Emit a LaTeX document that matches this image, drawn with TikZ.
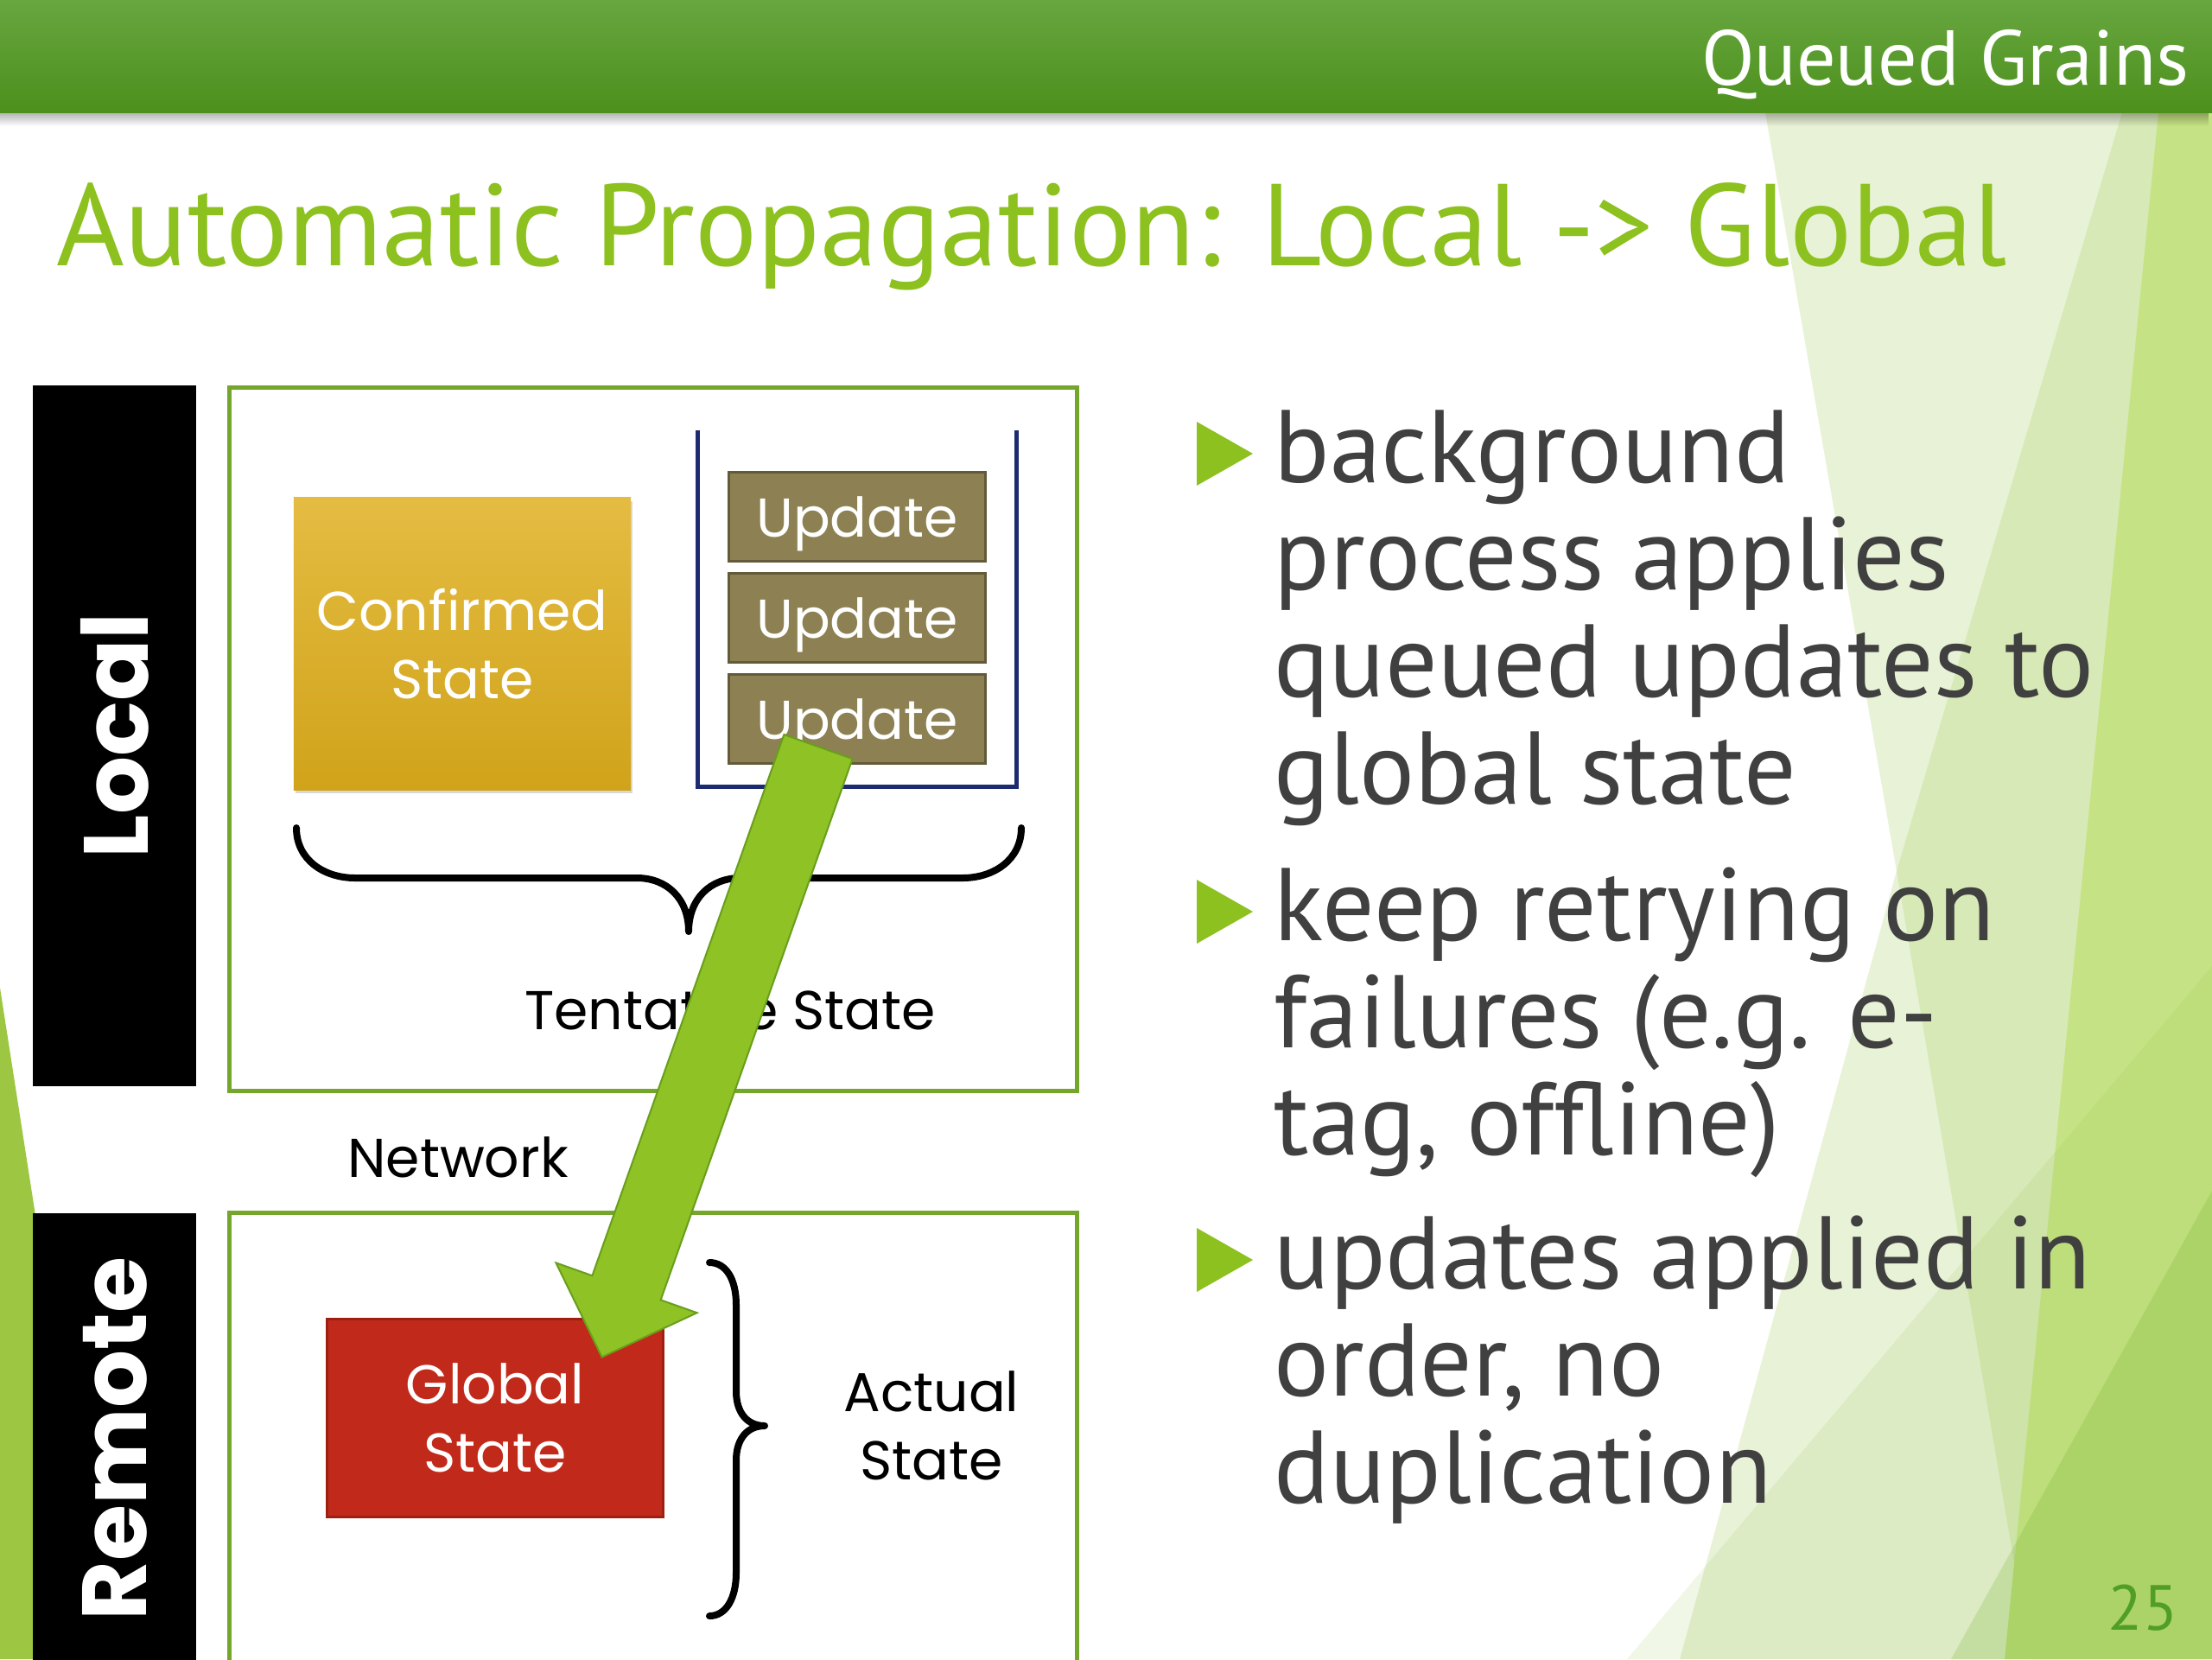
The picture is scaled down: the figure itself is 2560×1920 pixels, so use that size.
\documentclass[tikz,border=0pt]{standalone}
\usepackage{fontspec}
\setmainfont{PT Sans}
\newfontfamily\labelfont{Poppins}
\usetikzlibrary{shadows,fadings,calc}
\definecolor{hdrtop}{RGB}{103,166,64}
\definecolor{hdrbot}{RGB}{77,144,28}
\definecolor{titlegreen}{RGB}{141,193,31}
\definecolor{bodygray}{RGB}{64,64,64}
\definecolor{pale1}{RGB}{232,242,214}
\definecolor{pale2}{RGB}{215,233,182}
\definecolor{pale3}{RGB}{197,227,132}
\definecolor{tintA}{RGB}{140,190,60}
\definecolor{tintB}{RGB}{100,170,30}
\definecolor{sliver}{RGB}{157,199,67}
\definecolor{boxgreen}{RGB}{116,166,44}
\definecolor{conftop}{RGB}{229,188,66}
\definecolor{confbot}{RGB}{208,163,26}
\definecolor{updfill}{RGB}{141,129,83}
\definecolor{upddraw}{RGB}{98,90,56}
\definecolor{queueblue}{RGB}{28,42,112}
\definecolor{globfill}{RGB}{193,42,26}
\definecolor{globdraw}{RGB}{158,30,18}
\definecolor{arrowfill}{RGB}{143,194,36}
\definecolor{arrowdraw}{RGB}{104,158,28}
\definecolor{pagegreen}{RGB}{80,158,40}
\tikzfading[name=fadedown, top color=transparent!0, bottom color=transparent!100]
\begin{document}
\begin{tikzpicture}[x=0.01cm, y=-0.01cm,
  lbl/.style={font=\labelfont\fontsize{18}{22.5}\selectfont, inner sep=0pt, align=center},
  sidelbl/.style={font=\labelfont\bfseries\fontsize{30}{36}\selectfont, text=white, inner sep=0pt, rotate=90},
  body/.style={font=\fontsize{34}{40}\selectfont, text=bodygray, inner sep=0pt, anchor=base west},
  sidebar/.style={fill=black, draw=none, minimum width=1.89cm, inner sep=0pt},
  frame/.style={draw=boxgreen, line width=0.05cm, fill=white, minimum width=9.8cm, inner sep=0pt},
  updbox/.style={fill=updfill, draw=upddraw, line width=0.03cm, minimum width=2.96cm, minimum height=1.03cm, inner sep=0pt, text depth=0pt, text=white, font=\labelfont\fontsize{18}{22}\selectfont},
  bullet/.style={fill=titlegreen, draw=none},
  brace/.style={draw=black, line width=0.08cm, line cap=round, line join=round},
  queue/.style={draw=queueblue, line width=0.05cm}
]
\path[use as bounding box, clip] (0,0) rectangle (2560,1920);
\fill[white] (0,0) rectangle (2560,1920);
% right decoration
\fill[pale1] (2043,130) -- (2560,130) -- (2560,1920) -- (1944,1920) -- (2195,1008) -- cycle;
\fill[pale2] (2456,130) -- (2560,130) -- (2560,1920) -- (2350,1920) -- (2195,1008) -- cycle;
\fill[pale3] (2498,130) -- (2560,130) -- (2560,1920) -- (2320,1920) -- cycle;
\fill[tintA, opacity=0.12] (1883,1920) -- (2560,1118) -- (2560,1920) -- cycle;
\fill[tintB, opacity=0.2] (2258,1920) -- (2560,1378) -- (2560,1920) -- cycle;
% left sliver
\fill[sliver] (0,1143) -- (121,1920) -- (0,1920) -- cycle;
% header
\fill[black, opacity=0.3, path fading=fadedown] (0,130) rectangle (2560,146);
\fill[top color=hdrtop, bottom color=hdrbot] (0,0) rectangle (2560,130);
\node[font=\fontsize{25.6}{31}\selectfont, text=white, anchor=base east, inner sep=0pt] (hdr) at (2534,98) {Queued Grains};
% title
\node[font=\fontsize{38.3}{46}\selectfont, text=titlegreen, anchor=base west, inner sep=0pt] (title) at (65,307) {Automatic Propagation: Local -> Global};
% side bars
\node[sidebar, minimum height=8.11cm] (localbar) at (132.5,851.5) {};
\node[sidebar, minimum height=5.96cm] (remotebar) at (132.5,1702) {};
\node[sidelbl] (locallbl) at (133,851) {Local};
\node[sidelbl] (remotelbl) at (133,1665) {Remote};
% frames
\node[frame, minimum height=8.13cm] (localbox) at (756,855.5) {};
\node[frame, minimum height=5.96cm] (remotebox) at (756,1702) {};
% confirmed state
\node[lbl, text=white, top color=conftop, bottom color=confbot, minimum width=3.9cm, minimum height=3.38cm,
  drop shadow={shadow xshift=0.02cm, shadow yshift=-0.04cm, opacity=0.3}] (confirmed) at (535,745) {Confirmed\\State};
% queue
\draw[queue] (807,498) -- (807,910) -- (1176,910) -- (1176,498);
\node[updbox] (upd1) at (992,598) {Update};
\node[updbox] (upd2) at (992,715) {Update};
\node[updbox] (upd3) at (992,832) {Update};
% tentative brace
\draw[brace] (343,958) .. controls (343,995) and (375,1016) .. (411,1016) -- (737,1016)
  .. controls (772,1016) and (797,1040) .. (797,1078)
  .. controls (797,1040) and (822,1016) .. (857,1016) -- (1114,1016)
  .. controls (1150,1016) and (1182,995) .. (1182,958);
\node[lbl, text=black] (tentative) at (845,1168) {Tentative State};
\node[lbl, text=black] (network) at (530,1339) {Network};
% global state
\node[lbl, text=white, fill=globfill, draw=globdraw, line width=0.03cm, minimum width=3.88cm, minimum height=2.28cm] (global) at (573,1641) {Global\\State};
% actual brace
\draw[brace] (821,1461) .. controls (840,1461) and (852,1480) .. (852,1510) -- (852,1610)
  .. controls (852,1635) and (865,1650) .. (885,1650)
  .. controls (865,1650) and (852,1665) .. (852,1690) -- (852,1820)
  .. controls (852,1850) and (840,1870) .. (821,1870);
\node[lbl, text=black] (actual) at (1078,1650) {Actual\\State};
% big arrow from upd3 to global
\coordinate (as) at ($(upd3.south)+(-45,-21)$);
\coordinate (ae) at ($(global.north east)+(-72,45)$);
\coordinate (ah) at ($(ae)!0.85cm!(as)$);
\filldraw[fill=arrowfill, draw=arrowdraw, line width=0.02cm, line join=miter]
  ($(as)!0.42cm!90:(ae)$) -- ($(ah)!0.42cm!-90:(as)$) -- ($(ah)!0.865cm!-90:(as)$) -- (ae)
  -- ($(ah)!0.865cm!90:(as)$) -- ($(ah)!0.42cm!90:(as)$) -- ($(as)!0.42cm!-90:(ae)$) -- cycle;
% bullets
\fill[bullet] (1385,488) -- (1450,525) -- (1385,562) -- cycle;
\fill[bullet] (1385,1018) -- (1450,1055) -- (1385,1092) -- cycle;
\fill[bullet] (1385,1421) -- (1450,1458) -- (1385,1495) -- cycle;
\node[body] (b1a) at (1474,558) {background};
\node[body] (b1b) at (1474,682) {process applies};
\node[body] (b1c) at (1474,806) {queued updates to};
\node[body] (b1d) at (1474,930) {global state};
\node[body] (b2a) at (1474,1088) {keep retrying on};
\node[body] (b2b) at (1474,1212) {failures (e.g. e-};
\node[body] (b2c) at (1474,1336) {tag, offline)};
\node[body] (b3a) at (1474,1491) {updates applied in};
\node[body] (b3b) at (1474,1615) {order, no};
\node[body] (b3c) at (1474,1739) {duplication};
% page number
\node[font=\fontsize{21}{25}\selectfont, text=pagegreen, anchor=base east, inner sep=0pt] (pagenum) at (2521,1886) {25};
\end{tikzpicture}
\end{document}
